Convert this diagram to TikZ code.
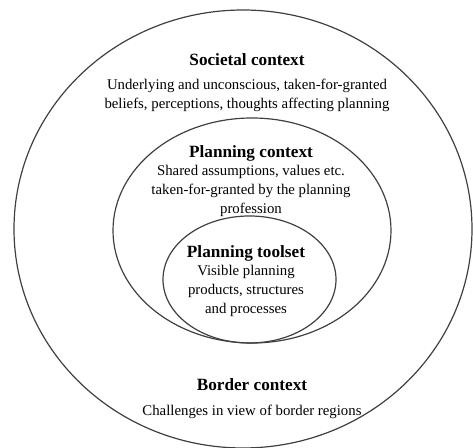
\documentclass[tikz,border=0pt]{standalone}
\usepackage{fontspec}
\setmainfont{Liberation Serif}
\usepackage{tikz}
\usetikzlibrary{shapes.geometric}

\begin{document}
\begin{tikzpicture}[
  x=0.5pt, y=-0.5pt,
  ring/.style={ellipse, draw=black!75, line width=0.6pt, inner sep=0pt, outer sep=0pt},
  title/.style={font=\fontsize{8.6}{10}\selectfont\bfseries, align=center, inner sep=0pt},
  body/.style={font=\fontsize{7.4}{9.6}\selectfont, align=center, inner sep=0pt}
]
\useasboundingbox (0,0) rectangle (473,448);

% Rings
\node[ring, minimum width=229pt, minimum height=219pt] (outer) at (243,229) {};
\node[ring, minimum width=139pt, minimum height=112.5pt] (middle) at (252,230.5) {};
\node[ring, minimum width=86.5pt, minimum height=63.5pt] (inner) at (249.5,279.5) {};

% Societal context
\node[title] (soctitle) at (247,60) {Societal context};
\node[body] (socbody) at (247,95) {Underlying and unconscious, taken-for-granted\\beliefs, perceptions, thoughts affecting planning};

% Planning context
\node[title] (plantitle) at (251,153) {Planning context};
\node[body] (planbody) at (251,191) {Shared assumptions, values etc.\\taken-for-granted by the planning\\profession};

% Planning toolset
\node[title] (tooltitle) at (246,253) {Planning toolset};
\node[body] (toolbody) at (246,291) {Visible planning\\products, structures\\and processes};

% Border context
\node[title] (bordtitle) at (252,385) {Border context};
\node[body] (bordbody) at (252,412) {Challenges in view of border regions};

\end{tikzpicture}
\end{document}
